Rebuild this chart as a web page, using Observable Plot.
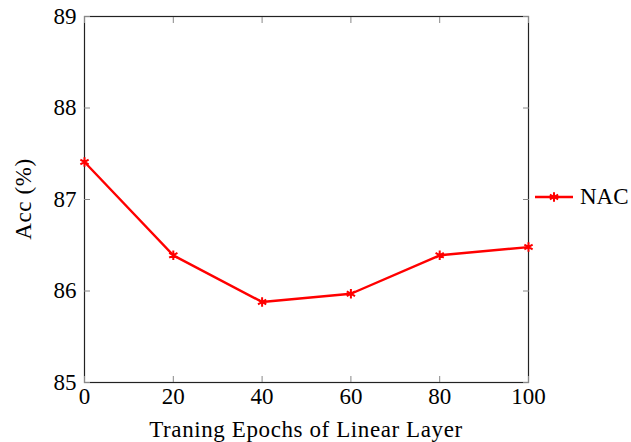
<!DOCTYPE html>
<html>
<head>
<meta charset="utf-8">
<script src="https://cdn.jsdelivr.net/npm/d3@7"></script>
<script src="https://cdn.jsdelivr.net/npm/@observablehq/plot@0.6"></script>
<style>
  body { margin: 0; background: #fff; }
  #wrap { position: relative; width: 631px; height: 442px; font-family: "Liberation Serif", "DejaVu Serif", serif; }
  #wrap svg text { font-family: "Liberation Serif", "DejaVu Serif", serif; }
  #legend { position: absolute; left: 534px; top: 184px; display: flex; align-items: center; font-size: 23px; color: #000; }
  #legend svg { margin-right: 6px; }
</style>
</head>
<body>
<div id="wrap"><div id="legend"></div></div>
<script>
const epochs = [0, 20, 40, 60, 80, 100];
const acc = [87.41, 86.39, 85.88, 85.97, 86.39, 86.48];
const seriesName = "NAC";
const xTicks = [0, 20, 40, 60, 80, 100];
const yTicks = [85, 86, 87, 88, 89];

const data = epochs.map((e, i) => ({epoch: e, acc: acc[i]}));
const red = "#ff0000";
const blank = () => "";
const fmt = d3.format("d");

const chart = Plot.plot({
  width: 631,
  height: 442,
  marginLeft: 84,
  marginRight: 103,
  marginTop: 16,
  marginBottom: 60,
  style: {fontFamily: "'Liberation Serif', 'DejaVu Serif', serif", fontSize: "23px", color: "#000", background: "#fff"},
  x: {domain: [0, 100]},
  y: {domain: [85, 89]},
  marks: [
    Plot.frame({stroke: "#222", strokeWidth: 1.2}),
    Plot.axisX(xTicks, {anchor: "bottom", tickSize: 0, tickPadding: 5, fontSize: 23, tickFormat: fmt, label: null}),
    Plot.axisX(xTicks, {anchor: "bottom", tickSize: -6, tickFormat: blank, label: null, stroke: "#888"}),
    Plot.axisX(xTicks, {anchor: "top", tickSize: -6, tickFormat: blank, label: null, stroke: "#888"}),
    Plot.axisY(yTicks, {anchor: "left", tickSize: 0, tickPadding: 8, fontSize: 23, tickFormat: fmt, label: null}),
    Plot.axisY(yTicks, {anchor: "left", tickSize: -6, tickFormat: blank, label: null, stroke: "#888"}),
    Plot.axisY(yTicks, {anchor: "right", tickSize: -6, tickFormat: blank, label: null, stroke: "#888"}),
    Plot.line(data, {x: "epoch", y: "acc", stroke: red, strokeWidth: 2.4}),
    Plot.dot(data, {x: "epoch", y: "acc", symbol: "asterisk", r: 4.5, stroke: red, strokeWidth: 2})
  ]
});

const svg = d3.select(chart);
svg.append("text")
  .attr("x", (84 + 528) / 2).attr("y", 437)
  .attr("text-anchor", "middle")
  .attr("font-size", 23)
  .attr("letter-spacing", 0.6)
  .attr("fill", "#000")
  .text("Traning Epochs of Linear Layer");
svg.append("text")
  .attr("transform", `translate(31, ${(16 + 382) / 2}) rotate(-90)`)
  .attr("text-anchor", "middle")
  .attr("font-size", 23)
  .attr("letter-spacing", 0.6)
  .attr("fill", "#000")
  .text("Acc (%)");

document.getElementById("wrap").prepend(chart);

const lg = document.getElementById("legend");
const sw = d3.create("svg").attr("width", 40).attr("height", 14);
sw.append("line").attr("x1", 1).attr("x2", 39).attr("y1", 7).attr("y2", 7).attr("stroke", red).attr("stroke-width", 2.4);
sw.append("path").attr("transform", "translate(20,7)").attr("d", d3.symbol(d3.symbolAsterisk, 64)()).attr("stroke", red).attr("stroke-width", 2).attr("fill", "none");
lg.appendChild(sw.node());
const t = document.createElement("span");
t.textContent = seriesName;
lg.appendChild(t);
</script>
</body>
</html>
